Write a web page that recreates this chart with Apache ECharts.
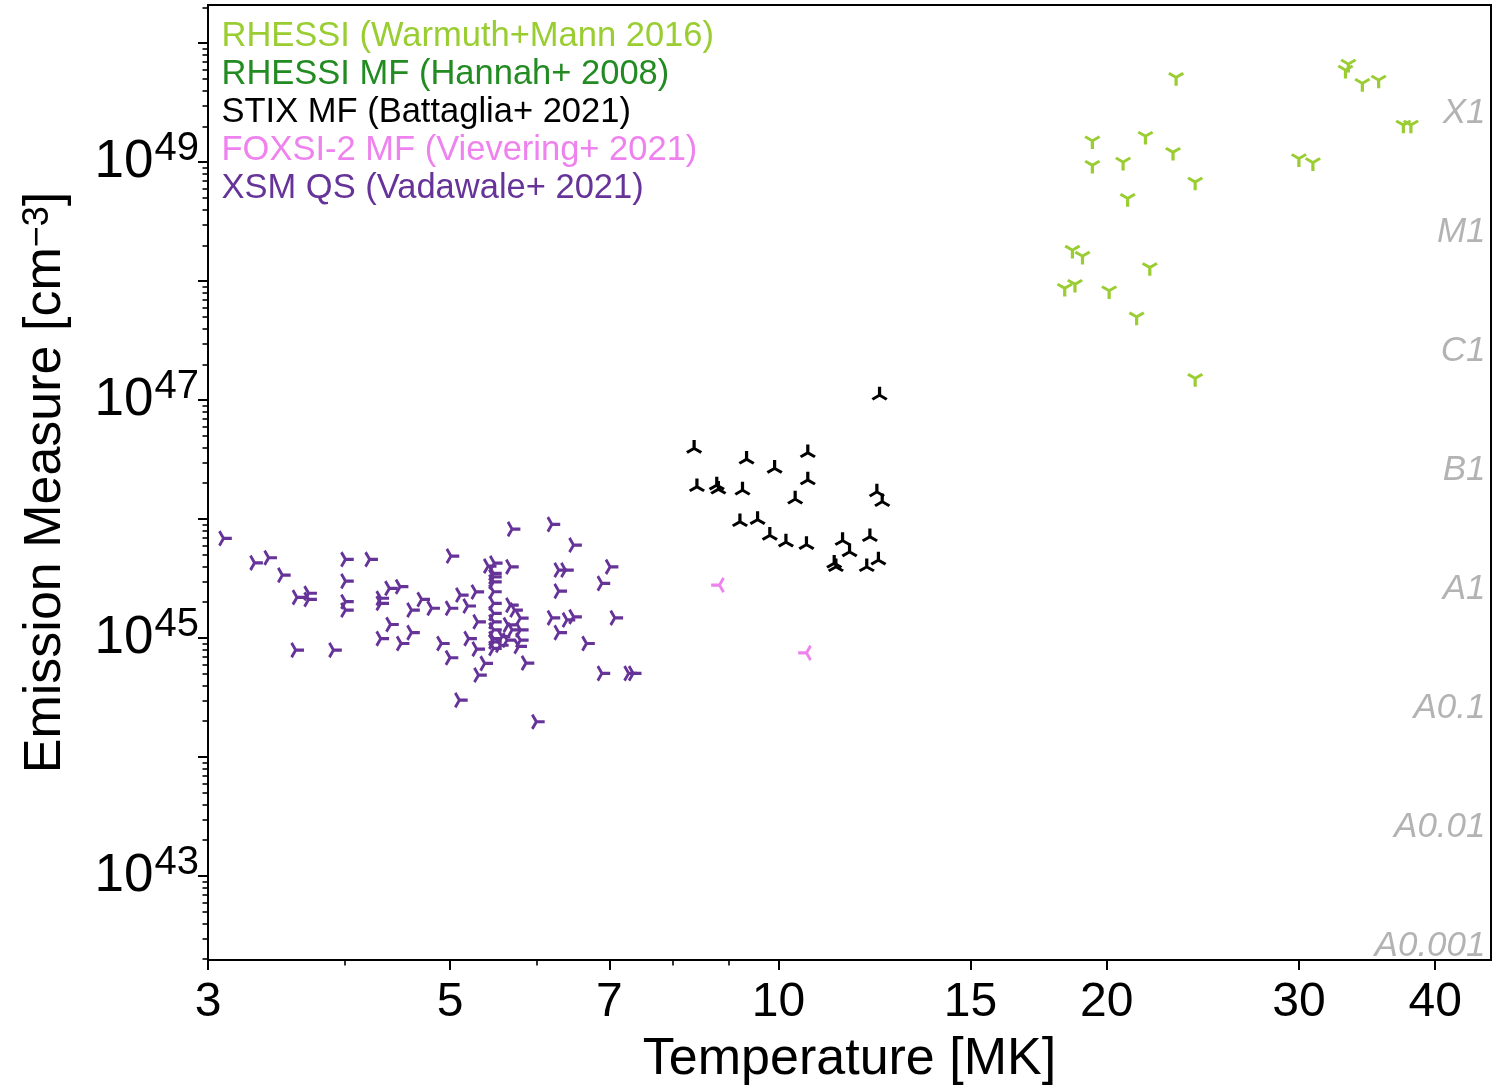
<!DOCTYPE html>
<html><head><meta charset="utf-8">
<script src="https://cdn.jsdelivr.net/npm/echarts@6/dist/echarts.min.js"></script>
<style>html,body{margin:0;padding:0;background:#fff}#c{width:1504px;height:1087px}</style>
</head><body><div id="c"></div>
<script>
// ---- data (Temperature [MK], Emission Measure [cm^-3]) ----
const warmuthT = [23.15, 33.3, 33.1, 34.3, 35.5, 37.4, 38.0, 19.4, 21.7, 23.0, 19.4, 20.7, 30.0, 30.9, 24.1, 20.9, 18.6, 19.0, 21.9, 18.3, 18.7, 20.1, 21.3, 24.1];
const warmuthEM = [5.15e49, 6.66e49, 5.93e49, 4.59e49, 4.89e49, 2.05e49, 2.05e49, 1.51e49, 1.65e49, 1.21e49, 9.4e48, 1.0e49, 1.07e49, 9.9e48, 6.8e48, 4.95e48, 1.82e48, 1.62e48, 1.30e48, 8.7e47, 9.4e47, 8.3e47, 5.0e47, 1.52e47];

const hannahT = [];
const hannahEM = [];

const stixT = [12.38, 8.37, 9.35, 9.92, 10.64, 8.42, 8.78, 8.81, 9.27, 10.64, 10.36, 12.31, 12.45, 9.22, 9.57, 9.82, 10.16, 10.61, 11.45, 11.62, 12.13, 11.25, 11.29, 12.05, 12.35];
const stixEM = [1.10e47, 3.93e46, 3.18e46, 2.67e46, 3.61e46, 1.87e46, 1.93e46, 1.78e46, 1.75e46, 2.13e46, 1.47e46, 1.69e46, 1.40e46, 9.5e45, 9.9e45, 7.3e45, 6.4e45, 6.1e45, 6.6e45, 5.3e45, 7.1e45, 4.25e45, 3.97e45, 3.97e45, 4.52e45];

const foxsiT = [8.83, 10.61];
const foxsiEM = [2.79e45, 7.5e44];

const xsmT = [3.10, 3.31, 3.41, 3.51, 3.62, 3.71, 3.71, 3.61, 3.91, 4.01,
  4.22, 4.01, 4.01, 4.01, 4.32, 4.32, 4.40, 4.50, 4.61, 4.71,
  4.81, 4.41, 4.61, 4.32, 4.51, 4.91, 5.70, 6.20, 6.49, 5.01,
  5.42, 5.68, 5.49, 6.29, 6.38, 7.01, 6.89, 6.29, 5.11, 5.28,
  5.00, 5.19, 5.68, 5.73, 6.20, 6.40, 6.49, 7.08, 5.30, 6.29,
  6.67, 5.20, 5.29, 5.00, 5.38, 5.31, 5.87, 6.89, 7.29, 7.36,
  5.10, 6.00,
  5.48, 5.48, 5.48, 5.48, 5.48, 5.48, 5.48, 5.48, 5.48, 5.48, 5.48,
  5.80, 5.65, 5.70, 5.80, 5.58, 5.64, 5.80, 5.56, 5.78];
const xsmEM = [6.88e45, 4.29e45, 4.73e45, 3.38e45, 2.20e45, 2.38e45, 2.11e45, 7.93e44, 7.93e44, 4.58e45,
  4.58e45, 3.01e45, 2.02e45, 1.72e45, 2.16e45, 1.96e45, 2.62e45, 2.70e45, 1.72e45, 2.11e45,
  1.78e45, 1.30e45, 1.11e45, 9.9e44, 9.0e44, 9.0e44, 8.24e45, 9.02e45, 6.05e45, 4.89e45,
  4.03e45, 3.97e45, 4.27e45, 3.73e45, 3.73e45, 3.97e45, 2.88e45, 2.48e45, 2.30e45, 2.44e45,
  1.78e45, 1.86e45, 1.89e45, 1.72e45, 1.48e45, 1.42e45, 1.51e45, 1.48e45, 1.37e45, 1.11e45,
  9.0e44, 9.9e44, 8.08e44, 6.83e44, 6.12e44, 4.89e44, 6.17e44, 5.05e44, 5.05e44, 5.05e44,
  3.01e44, 1.98e44,
  3.50e45, 3.27e45, 2.97e45, 2.45e45, 1.96e45, 1.61e45, 1.37e45, 1.17e45, 9.9e44, 9.3e44, 8.19e44,
  1.47e45, 1.29e45, 1.17e45, 1.17e45, 1.03e45, 9.6e44, 9.6e44, 8.7e44, 8.5e44];

// ---- ticks / labels ----
const xMajorTicks = [3, 5, 7, 10, 15, 20, 30, 40];
const xMinorTicks = [4, 6, 8, 9];
const yMajorExps = [43, 44, 45, 46, 47, 48, 49, 50];
const yLabelExps = [43, 45, 47, 49];
const yMinorExps = [42, 43, 44, 45, 46, 47, 48, 49, 50];
const yMinorMantissas = [2, 3, 4, 5, 6, 7, 8, 9];
const goesClasses = ['X1', 'M1', 'C1', 'B1', 'A1', 'A0.1', 'A0.01', 'A0.001'];
const goesEM = [2.55e49, 2.55e48, 2.55e47, 2.55e46, 2.55e45, 2.55e44, 2.55e43, 2.55e42];

const seriesNames = ['RHESSI (Warmuth+Mann 2016)', 'RHESSI MF (Hannah+ 2008)', 'STIX MF (Battaglia+ 2021)', 'FOXSI-2 MF (Vievering+ 2021)', 'XSM QS (Vadawale+ 2021)'];
const seriesColors = ['#9acd32', '#228b22', '#000000', '#ee82ee', '#663399'];

// ---- layout constants ----
const X_MIN = 3, X_MAX = 45, Y_MIN = 1.97e42, Y_MAX = 2.09e50;
const FONT = '"Liberation Sans", Arial, Helvetica, sans-serif';

const TRI_DOWN = 'path://M0 0L0 10M0 0L-8.66 -5M0 0L8.66 -5';
const TRI_UP = 'path://M0 0L0 -10M0 0L-8.66 5M0 0L8.66 5';
const TRI_LEFT = 'path://M0 0L-10 0M0 0L5 -8.66M0 0L5 8.66';
const TRI_RIGHT = 'path://M0 0L10 0M0 0L-5 -8.66M0 0L-5 8.66';
const R = 8.3;
const W = 1.732 * R, H = 1.5 * R, OFF = R / 4;

const zip = (a, b) => a.map((v, i) => [v, b[i]]);
const yMajorVals = yMajorExps.map(e => Math.pow(10, e));
const yLabelVals = yLabelExps.map(e => Math.pow(10, e));
const yMinorVals = [];
yMinorExps.forEach(e => yMinorMantissas.forEach(m => {
  const v = m * Math.pow(10, e);
  if (v >= Y_MIN && v <= Y_MAX) yMinorVals.push(v);
}));

function markerSeries(idx, T, EM, symbol, size, offset) {
  return {
    name: seriesNames[idx], type: 'scatter', xAxisIndex: 0, yAxisIndex: 0,
    data: zip(T, EM), symbol: symbol, symbolSize: size, symbolOffset: offset,
    itemStyle: { color: 'none', borderColor: seriesColors[idx], borderWidth: 3, opacity: 1 },
    emphasis: { disabled: true }, z: 3
  };
}

const chart = echarts.init(document.getElementById('c'), null, { renderer: 'canvas' });
const option = {
  animation: false,
  backgroundColor: '#ffffff',
  grid: { left: 208, right: 13, top: 5, bottom: 127, show: true, borderColor: '#000', borderWidth: 2, backgroundColor: 'transparent', outerBoundsMode: 'none' },
  legend: {
    show: true, orient: 'vertical', left: 214, top: 18, padding: 0, itemGap: 0,
    itemWidth: 0, itemHeight: 0, icon: 'rect', selectedMode: false,
    textStyle: { fontSize: 34.5, lineHeight: 37.8, fontFamily: FONT },
    data: seriesNames.map((n, i) => ({ name: n, textStyle: { color: seriesColors[i] } }))
  },
  xAxis: [{
    type: 'log', logBase: 10, min: X_MIN, max: X_MAX, position: 'bottom',
    name: 'Temperature [MK]', nameLocation: 'middle', nameGap: 74,
    nameTextStyle: { fontSize: 52, color: '#000', fontFamily: FONT },
    axisLine: { show: true, lineStyle: { color: '#000', width: 2 } },
    axisTick: { show: true, inside: false, length: 10, lineStyle: { color: '#000', width: 2 }, customValues: xMajorTicks },
    axisLabel: { show: true, customValues: xMajorTicks, margin: 19, fontSize: 48, color: '#000', fontFamily: FONT, formatter: v => String(Math.round(v)) },
    splitLine: { show: false }, minorTick: { show: false }
  }, {
    type: 'log', logBase: 10, min: X_MIN, max: X_MAX, position: 'bottom',
    axisLine: { show: false },
    axisTick: { show: true, inside: false, length: 5.5, lineStyle: { color: '#000', width: 1.6 }, customValues: xMinorTicks },
    axisLabel: { show: false }, splitLine: { show: false }
  }],
  yAxis: [{
    type: 'log', logBase: 10, min: Y_MIN, max: Y_MAX, position: 'left',
    name: 'Emission Measure [cm{sup|−3}]', nameLocation: 'middle', nameGap: 136, nameRotate: 90,
    nameTextStyle: { fontSize: 52, color: '#000', fontFamily: FONT, rich: { sup: { fontSize: 36, fontFamily: FONT, color: '#000', padding: [0, 0, 0, 0], verticalAlign: 'top' } } },
    axisLine: { show: true, lineStyle: { color: '#000', width: 2 } },
    axisTick: { show: true, inside: false, length: 10, lineStyle: { color: '#000', width: 2 }, customValues: yMajorVals },
    axisLabel: {
      show: true, customValues: yLabelVals, margin: 9, color: '#000', fontFamily: FONT,
      formatter: v => '{b|10}{s|' + Math.round(Math.log10(v)) + '}',
      rich: {
        b: { fontSize: 53, lineHeight: 53, fontFamily: FONT, color: '#000' },
        s: { fontSize: 40, lineHeight: 40, fontFamily: FONT, color: '#000', padding: [0, 0, 26, 1] }
      }
    },
    splitLine: { show: false }, minorTick: { show: false }
  }, {
    type: 'log', logBase: 10, min: Y_MIN, max: Y_MAX, position: 'left',
    axisLine: { show: false },
    axisTick: { show: true, inside: false, length: 5.5, lineStyle: { color: '#000', width: 1.6 }, customValues: yMinorVals },
    axisLabel: { show: false }, splitLine: { show: false }
  }],
  series: [
    markerSeries(0, warmuthT, warmuthEM, TRI_DOWN, [W, H], [0, OFF]),
    markerSeries(1, hannahT, hannahEM, TRI_DOWN, [W, H], [0, OFF]),
    markerSeries(2, stixT, stixEM, TRI_UP, [W, H], [0, -OFF]),
    markerSeries(3, foxsiT, foxsiEM, TRI_LEFT, [H, W], [-OFF, 0]),
    markerSeries(4, xsmT, xsmEM, TRI_RIGHT, [H, W], [OFF, 0]),
    {
      name: 'GOES', type: 'scatter', xAxisIndex: 0, yAxisIndex: 0, symbol: 'circle', symbolSize: 1,
      itemStyle: { color: 'rgba(0,0,0,0)' },
      data: goesEM.map((em, i) => ({ value: [X_MAX, em], name: goesClasses[i] })),
      label: { show: true, position: 'left', distance: 5, formatter: p => p.name, color: '#a0a0a0', fontSize: 35, fontStyle: 'italic', fontFamily: FONT },
      emphasis: { disabled: true }, silent: true, clip: false, z: 2
    }
  ]
};
chart.setOption(option);
</script>
</body></html>
